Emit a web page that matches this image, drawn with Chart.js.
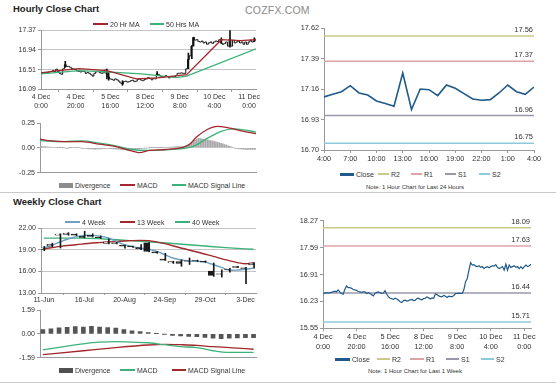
<!DOCTYPE html>
<html>
<head>
<meta charset="utf-8">
<script src="https://cdn.jsdelivr.net/npm/chart.js@4.4.1/dist/chart.umd.min.js"></script>
<style>
  body { margin: 0; background: #fff; width: 560px; height: 385px; overflow: hidden; position: relative;
         font-family: "Liberation Sans", Arial, Helvetica, sans-serif; color: #333; }
  canvas { position: absolute; }
  .abs { position: absolute; white-space: nowrap; }
  .title { font-weight: bold; font-size: 9.5px; line-height: 11px; color: #222; }
  .brand { font-size: 10.5px; line-height: 12px; color: #8a8a8a; letter-spacing: 0.2px; }
  .lg { font-size: 7px; line-height: 9px; color: #333; }
  .note { font-size: 6px; line-height: 8px; color: #333; }
  .rule { position: absolute; height: 1px; background: #c8c8c8; }
</style>
</head>
<body>
<div class="abs title" style="left:13px;top:3px">Hourly Close Chart</div>
<div class="abs brand" style="left:245px;top:4px">COZFX.COM</div>
<div class="abs title" style="left:13px;top:196px">Weekly Close Chart</div>
<div class="abs note" style="left:366px;top:183px">Note: 1 Hour Chart for Last 24 Hours</div>
<div class="abs note" style="left:368px;top:367px">Note: 1 Hour Chart for Last 1 Week</div>
<div class="rule" style="left:0;top:192px;width:556px"></div>
<div class="rule" style="left:0;top:382px;width:556px"></div>
<script>
// ---- hourly data (4 Dec 0:00 .. 11 Dec 4:00, trading hours) ----
const hourTickLabels = [['4 Dec', '0:00'], ['4 Dec', '20:00'], ['5 Dec', '16:00'], ['8 Dec', '12:00'],
  ['9 Dec', '8:00'], ['10 Dec', '4:00'], ['11 Dec', '0:00']];
const hourTickIdx = [0, 20, 40, 60, 80, 100, 120];
const hourlyClose = [
  16.44, 16.44, 16.45, 16.44, 16.45, 16.46, 16.47, 16.49, 16.47, 16.52,
  16.47, 16.43, 16.41, 16.53, 16.62, 16.58, 16.58, 16.56, 16.53, 16.52,
  16.51, 16.48, 16.47, 16.46, 16.47, 16.47, 16.43, 16.45, 16.43, 16.40,
  16.37, 16.43, 16.46, 16.47, 16.45, 16.43, 16.44, 16.50, 16.41, 16.35,
  16.31, 16.30, 16.28, 16.31, 16.29, 16.26, 16.22, 16.20, 16.25, 16.26,
  16.24, 16.25, 16.27, 16.28, 16.25, 16.26, 16.30, 16.31, 16.28, 16.27,
  16.30, 16.31, 16.34, 16.32, 16.29, 16.32, 16.31, 16.42, 16.40, 16.37,
  16.35, 16.35, 16.38, 16.36, 16.33, 16.36, 16.35, 16.35, 16.38, 16.43,
  16.43, 16.44, 16.43, 16.43, 16.53, 16.73, 16.81, 17.02, 17.21, 17.15,
  17.16, 17.12, 17.11, 17.13, 17.09, 17.11, 17.06, 17.09, 17.11, 17.08,
  17.11, 17.13, 17.12, 17.16, 17.09, 17.06, 17.08, 17.11, 17.02, 17.17,
  17.02, 17.15, 17.09, 17.11, 17.13, 17.09, 17.11, 17.06, 17.11, 17.06,
  17.11, 17.15, 17.11, 17.13, 17.17];
const wickIdx = [14, 38, 39, 47, 67, 85, 87, 88, 104, 109, 123];
const wickLow = [16.56, 16.31, 16.28, 16.17, 16.38, 16.53, 16.75, 17.02, 17.08, 17.00, 17.12];
const wickHigh = [16.69, 16.52, 16.45, 16.27, 16.47, 16.87, 17.03, 17.21, 17.20, 17.36, 17.20];
const ma20Idx = [0, 10, 22, 38, 55, 67, 84, 104, 115, 124];
const ma20Val = [16.44, 16.49, 16.53, 16.49, 16.31, 16.33, 16.40, 17.16, 17.14, 17.16];
const ma50Idx = [0, 22, 38, 58, 78, 84, 124];
const ma50Val = [16.42, 16.49, 16.46, 16.42, 16.335, 16.37, 16.96];
const hourPriceTicks = [16.09, 16.51, 16.94, 17.37];

const hMacdIdx = [0, 5, 14, 24, 34, 43, 53, 57, 63, 72, 82, 86, 90, 96, 102, 107, 111, 117, 124];
const hMacdVal = [0.089, 0.073, 0.064, 0.064, 0.038, 0.016, -0.032, -0.048, -0.025, -0.016, 0.006, 0.038,
  0.111, 0.185, 0.217, 0.207, 0.191, 0.166, 0.143];
const hSigIdx = [0, 14, 24, 34, 43, 53, 63, 72, 82, 88, 96, 104, 111, 117, 124];
const hSigVal = [0.073, 0.064, 0.07, 0.048, 0.022, -0.016, -0.025, -0.019, -0.006, 0.016, 0.096, 0.166,
  0.191, 0.182, 0.159];
const hDiv = [
  0.016, 0.015, 0.013, 0.012, 0.011, 0.009, 0.008, 0.006, 0.005, 0.004,
  0.003, 0.002, 0.002, 0.001, 0.000, -0.001, -0.001, 0.001, 0.003, 0.004,
  0.004, 0.003, 0.002, 0.000, -0.002, -0.004, -0.006, -0.008, -0.009, -0.010,
  -0.011, -0.012, -0.012, -0.011, -0.010, -0.009, -0.008, -0.007, -0.006, -0.006,
  -0.007, -0.008, -0.010, -0.011, -0.013, -0.014, -0.016, -0.018, -0.020, -0.021,
  -0.022, -0.022, -0.021, -0.020, -0.018, -0.016, -0.014, -0.011, -0.008, -0.005,
  -0.003, -0.001, 0.000, 0.001, 0.002, 0.003, 0.003, 0.002, 0.002, 0.003,
  0.003, 0.004, 0.004, 0.005, 0.006, 0.007, 0.008, 0.010, 0.011, 0.012,
  0.012, 0.013, 0.014, 0.016, 0.019, 0.024, 0.032, 0.045, 0.060, 0.075,
  0.088, 0.095, 0.094, 0.092, 0.089, 0.086, 0.082, 0.078, 0.074, 0.070,
  0.065, 0.060, 0.055, 0.050, 0.045, 0.040, 0.034, 0.028, 0.022, 0.016,
  0.010, 0.004, -0.002, -0.006, -0.009, -0.011, -0.013, -0.014, -0.015, -0.015,
  -0.016, -0.016, -0.016, -0.016, -0.016];
const hMacdTicks = [-0.25, 0, 0.25];

// ---- last 24 hours ----
const dayTickLabels = ['4:00', '7:00', '10:00', '13:00', '16:00', '19:00', '22:00', '1:00', '4:00'];
const dayTickIdx = [0, 3, 6, 9, 12, 15, 18, 21, 24];
const dayClose = [17.10, 17.12, 17.14, 17.185, 17.13, 17.115, 17.07, 17.05, 17.03, 17.28, 17.005, 17.16,
  17.155, 17.11, 17.19, 17.165, 17.125, 17.085, 17.075, 17.08, 17.13, 17.19, 17.14, 17.12, 17.175];
const dayLevels = [17.56, 17.37, 16.96, 16.75];
const dayTicks = [16.70, 16.93, 17.16, 17.39, 17.62];

// ---- last week pivots ----
const weekLevels = [18.09, 17.63, 16.44, 15.71];
const weekPriceTicks = [15.55, 16.23, 16.91, 17.59, 18.27];
const levelNames = ['R2', 'R1', 'S1', 'S2'];

// ---- weekly data (11-Jun .. 10-Dec) ----
const weekTickLabels = ['11-Jun', '16-Jul', '20-Aug', '24-Sep', '29-Oct', '3-Dec'];
const weekTickIdx = [0, 5, 10, 15, 20, 25];
const wOpen = [19.05, 19.50, 21.00, 21.10, 21.15, 20.85, 21.00, 20.75, 19.85, 19.95, 19.60, 19.50, 19.30, 19.95,
  18.70, 17.70, 17.15, 17.35, 17.45, 17.50, 17.40, 16.05, 15.65, 16.25, 16.65, 16.50, 16.90];
const wHigh = [19.45, 19.90, 21.20, 21.35, 21.20, 21.55, 21.20, 20.90, 20.50, 20.00, 19.65, 19.50, 19.70, 20.00,
  18.75, 18.50, 17.40, 17.60, 17.85, 17.55, 17.45, 17.15, 16.20, 16.40, 16.70, 16.55, 17.20];
const wLow = [18.85, 19.40, 19.23, 21.00, 20.95, 20.65, 20.75, 20.55, 19.80, 19.80, 19.20, 19.30, 19.00, 18.70,
  18.50, 17.50, 17.10, 16.70, 16.95, 17.35, 17.25, 15.30, 15.20, 15.90, 16.50, 14.30, 16.45];
const wClose = [19.25, 19.75, 21.15, 21.30, 21.00, 20.70, 20.85, 20.65, 20.10, 19.85, 19.50, 19.40, 19.10, 18.75,
  18.55, 17.55, 17.35, 17.10, 17.40, 17.45, 17.30, 15.45, 15.60, 16.20, 16.55, 16.40, 17.15];
const ma4 = [19.23, 19.60, 20.06, 20.48, 20.80, 20.98, 20.98, 20.85, 20.62, 20.15, 19.69, 19.42, 19.23, 19.05,
  18.77, 18.30, 17.85, 17.57, 17.43, 17.38, 17.30, 16.92, 16.55, 16.18, 16.18, 16.28, 16.46];
const ma13Idx = [0, 2, 4, 6, 8, 10, 12, 13, 15, 17, 19, 21, 23, 25, 26];
const ma13Val = [19.10, 19.46, 19.69, 19.92, 20.06, 20.20, 20.29, 20.25, 19.83, 19.23, 18.68, 18.08, 17.48, 17.05, 17.20];
const ma40Idx = [0, 4, 8, 12, 16, 20, 23, 26];
const ma40Val = [20.60, 20.60, 20.45, 20.15, 19.85, 19.50, 19.25, 19.05];
const weekTicks = [13, 16, 19, 22];

const wDiv = [0.29, 0.33, 0.40, 0.44, 0.48, 0.46, 0.50, 0.46, 0.42, 0.38, 0.29, 0.21, 0.15, 0.08, 0.02,
  -0.02, -0.10, -0.13, -0.17, -0.19, -0.23, -0.29, -0.32, -0.29, -0.27, -0.25, -0.25];
const wMacdIdx = [0, 3, 5, 7, 9, 11, 13, 15, 17, 19, 21, 23, 26];
const wMacdVal = [-1.06, -0.81, -0.66, -0.55, -0.51, -0.55, -0.59, -0.72, -0.85, -0.91, -1.12, -1.23, -1.23];
const wSigIdx = [0, 5, 9, 13, 15, 17, 19, 21, 23, 26];
const wSigVal = [-1.38, -1.12, -0.91, -0.74, -0.70, -0.72, -0.76, -0.85, -0.91, -1.02];
const wMacdTicks = [-1.59, 0, 1.59];

// ---- styling ----
const RED = '#a2282c';
const GREEN = '#3cb27a';
const BLUE4 = '#6fa0c2';
const CLOSE_BLUE = '#1f5a8a';
const LEVEL_COLORS = ['#c9c98c', '#dca4a4', '#9a98ad', '#8ccbdc'];
const FONT = { family: '"Liberation Sans", Arial, Helvetica, sans-serif', size: 7, lineHeight: 1.2 };
Chart.defaults.font = FONT;
Chart.defaults.color = '#333';

const pts = (idx, vals) => idx.map((x, k) => ({ x, y: vals[k] }));
const seq = (vals) => vals.map((y, x) => ({ x, y }));

function makeCanvas(left, top, w, h) {
  const c = document.createElement('canvas');
  c.width = w; c.height = h;
  c.style.left = left + 'px'; c.style.top = top + 'px';
  c.style.width = w + 'px'; c.style.height = h + 'px';
  document.body.appendChild(c);
  return c.getContext('2d');
}

function legend(y, items) {
  items.forEach(([x0, x1, kind, color, text, tx]) => {
    const h = kind === 'block' ? 5 : kind === 'thick' ? 3 : 2;
    const sw = document.createElement('div');
    sw.className = 'abs';
    sw.style.cssText += `left:${x0}px;top:${y - h / 2}px;width:${x1 - x0}px;height:${h}px;background:${color}`;
    document.body.appendChild(sw);
    const t = document.createElement('div');
    t.className = 'abs lg';
    t.style.left = tx + 'px'; t.style.top = (y - 4.5) + 'px';
    t.textContent = text;
    document.body.appendChild(t);
  });
}

const levelLabels = {
  id: 'levelLabels',
  afterDatasetsDraw(chart) {
    const { ctx, chartArea, scales } = chart;
    chart.data.datasets.forEach((ds) => {
      if (ds.levelLabel === undefined) return;
      const y = scales.y.getPixelForValue(ds.levelLabel);
      ctx.save();
      ctx.font = '7.5px "Liberation Sans", Arial, sans-serif';
      ctx.fillStyle = '#333';
      ctx.textAlign = 'right';
      ctx.textBaseline = 'alphabetic';
      ctx.fillText(ds.levelLabel.toFixed(2), chartArea.right - 1, y - 4);
      ctx.restore();
    });
  },
};

function baseOptions(pad) {
  return {
    responsive: false,
    animation: false,
    devicePixelRatio: 1,
    layout: { padding: pad },
    plugins: { legend: { display: false }, tooltip: { enabled: false } },
    elements: { point: { radius: 0 }, line: { borderWidth: 1 } },
  };
}

function yAxis(min, max, ticks, width, grid, fontSize) {
  return {
    type: 'linear', min, max,
    afterBuildTicks: (s) => { s.ticks = ticks.map((v) => ({ value: v })); },
    afterFit: (s) => { s.width = width; },
    ticks: { callback: (v) => Number(v).toFixed(2), padding: 2, font: { ...FONT, size: fontSize || 7 } },
    grid: { drawOnChartArea: grid, color: '#c4c4c4', tickLength: 3, tickColor: '#999' },
    border: { display: true, color: '#999' },
  };
}

function xAxis(min, max, tickIdx, labels, height, opts = {}) {
  return {
    type: 'linear', min, max, offset: false,
    afterBuildTicks: (s) => { s.ticks = tickIdx.map((v) => ({ value: v })); },
    afterFit: (s) => { s.height = height; },
    ticks: {
      display: !!labels, autoSkip: false, maxRotation: 0, padding: opts.padding ?? 1,
      callback: (v, i) => (labels ? labels[i] : ''),
      font: { ...FONT, size: opts.size || 7, lineHeight: opts.lineHeight || 1.2 },
    },
    grid: { drawOnChartArea: false, drawTicks: !!labels, tickLength: opts.tick ?? 3, tickColor: '#999' },
    border: { display: true, color: '#999' },
  };
}

function levelSets(levels, xmin, xmax) {
  return levels.map((v, k) => ({
    type: 'line', label: levelNames[k], levelLabel: v,
    data: [{ x: xmin, y: v }, { x: xmax, y: v }],
    borderColor: LEVEL_COLORS[k], borderWidth: 1.5,
  }));
}

const lastHour = hourlyClose.length - 1;

// Hourly close chart
new Chart(makeCanvas(0, 20, 262, 92), {
  type: 'bar',
  data: {
    datasets: [
      { type: 'line', label: '20 Hr MA', data: pts(ma20Idx, ma20Val), borderColor: RED, borderWidth: 1.3 },
      { type: 'line', label: '50 Hrs MA', data: pts(ma50Idx, ma50Val), borderColor: GREEN, borderWidth: 1.3 },
      { type: 'line', label: 'Close', data: seq(hourlyClose), borderColor: '#111', borderWidth: 1, stepped: 'middle' },
      { type: 'bar', label: 'Range', data: wickIdx.map((x, k) => ({ x, y: [wickLow[k], wickHigh[k]] })),
        backgroundColor: '#111', barThickness: 1 },
    ],
  },
  options: {
    ...baseOptions({ top: 10, right: 6, left: 0, bottom: 0 }),
    scales: {
      x: xAxis(0, lastHour, hourTickIdx, hourTickLabels, 23),
      y: yAxis(16.09, 17.37, hourPriceTicks, 41, true),
    },
  },
});
legend(24, [[93, 108, 'line', RED, '20 Hr MA', 110], [150, 164, 'line', GREEN, '50 Hrs MA', 166]]);

// Hourly MACD
new Chart(makeCanvas(0, 115, 262, 64), {
  type: 'bar',
  data: {
    datasets: [
      { type: 'line', label: 'MACD', data: pts(hMacdIdx, hMacdVal), borderColor: RED, borderWidth: 1.3,
        cubicInterpolationMode: 'monotone' },
      { type: 'line', label: 'MACD Signal Line', data: pts(hSigIdx, hSigVal), borderColor: GREEN, borderWidth: 1.3,
        cubicInterpolationMode: 'monotone' },
      { type: 'bar', label: 'Divergence', data: seq(hDiv), backgroundColor: '#a8a8a8', barThickness: 1 },
    ],
  },
  options: {
    ...baseOptions({ top: 8, right: 6, left: 0, bottom: 3 }),
    scales: {
      x: xAxis(0, lastHour, hourTickIdx, null, 0),
      y: yAxis(-0.25, 0.25, hMacdTicks, 40, false),
    },
  },
});
legend(185, [[59, 73, 'block', '#8c8c8c', 'Divergence', 75], [120, 135, 'line', RED, 'MACD', 137],
  [172, 186, 'line', GREEN, 'MACD Signal Line', 188]]);

// Last 24 hours with pivots
new Chart(makeCanvas(280, 18, 280, 150), {
  type: 'line',
  data: {
    datasets: [
      { label: 'Close', data: seq(dayClose), borderColor: CLOSE_BLUE, borderWidth: 1.6 },
      ...levelSets(dayLevels, 0, dayClose.length - 1),
    ],
  },
  options: {
    ...baseOptions({ top: 10, right: 26, left: 0, bottom: 0 }),
    scales: {
      x: xAxis(0, dayClose.length - 1, dayTickIdx, dayTickLabels, 18, { padding: 2, size: 7.3 }),
      y: yAxis(16.70, 17.62, dayTicks, 44, false, 7.3),
    },
  },
  plugins: [levelLabels],
});
legend(174, [[340, 354, 'thick', CLOSE_BLUE, 'Close', 356], [378, 389, 'line', LEVEL_COLORS[0], 'R2', 391],
  [411, 422, 'line', LEVEL_COLORS[1], 'R1', 424], [445, 456, 'line', LEVEL_COLORS[2], 'S1', 458],
  [479, 490, 'line', LEVEL_COLORS[3], 'S2', 492]]);

// Weekly close chart
new Chart(makeCanvas(0, 218, 262, 92), {
  type: 'bar',
  data: {
    datasets: [
      { type: 'bar', label: 'Body', data: wOpen.map((o, x) => ({ x, y: [o, wClose[x]] })),
        backgroundColor: wOpen.map((o, x) => (wClose[x] >= o ? '#ffffff' : '#1a1a1a')),
        borderColor: '#1a1a1a', borderWidth: 1, borderSkipped: false, barThickness: 5 },
      { type: 'bar', label: 'Range', data: wLow.map((l, x) => ({ x, y: [l, wHigh[x]] })),
        backgroundColor: '#1a1a1a', barThickness: 1 },
      { type: 'line', label: '4 Week', data: seq(ma4), borderColor: BLUE4, borderWidth: 1.4, tension: 0.3 },
      { type: 'line', label: '13 Week', data: pts(ma13Idx, ma13Val), borderColor: RED, borderWidth: 1.4,
        cubicInterpolationMode: 'monotone' },
      { type: 'line', label: '40 Week', data: pts(ma40Idx, ma40Val), borderColor: GREEN, borderWidth: 1.4,
        cubicInterpolationMode: 'monotone' },
    ],
  },
  options: {
    ...baseOptions({ top: 10, right: 6, left: 0, bottom: 0 }),
    scales: {
      x: xAxis(-0.35, 26.3, weekTickIdx, weekTickLabels, 17, { tick: 2 }),
      y: yAxis(13, 22, weekTicks, 41, true),
    },
  },
});
legend(222, [[65, 80, 'line', BLUE4, '4 Week', 82], [120, 135, 'line', RED, '13 Week', 137],
  [175, 190, 'line', GREEN, '40 Week', 192]]);

// Weekly MACD
new Chart(makeCanvas(0, 302, 262, 62), {
  type: 'bar',
  data: {
    datasets: [
      { type: 'line', label: 'MACD', data: pts(wMacdIdx, wMacdVal), borderColor: GREEN, borderWidth: 1.3,
        cubicInterpolationMode: 'monotone' },
      { type: 'line', label: 'MACD Signal Line', data: pts(wSigIdx, wSigVal), borderColor: RED, borderWidth: 1.3,
        cubicInterpolationMode: 'monotone' },
      { type: 'bar', label: 'Divergence', data: seq(wDiv), backgroundColor: '#555555', barThickness: 4 },
    ],
  },
  options: {
    ...baseOptions({ top: 8, right: 6, left: 0, bottom: 3 }),
    scales: {
      x: xAxis(-0.35, 26.3, weekTickIdx, null, 0),
      y: yAxis(-1.59, 1.59, wMacdTicks, 40, false),
    },
  },
});
legend(370, [[59, 73, 'block', '#505050', 'Divergence', 75], [120, 135, 'line', GREEN, 'MACD', 137],
  [172, 186, 'line', RED, 'MACD Signal Line', 188]]);

// Last week hourly with pivots
new Chart(makeCanvas(280, 210, 280, 150), {
  type: 'line',
  data: {
    datasets: [
      { label: 'Close', data: seq(hourlyClose), borderColor: CLOSE_BLUE, borderWidth: 1.2 },
      ...levelSets(weekLevels, 0, lastHour),
    ],
  },
  options: {
    ...baseOptions({ top: 10.7, right: 29, left: 0, bottom: 0 }),
    scales: {
      x: xAxis(0, lastHour, hourTickIdx, hourTickLabels, 31.7, { size: 7.3, lineHeight: 1.3 }),
      y: yAxis(15.55, 18.27, weekPriceTicks, 43, false, 7.3),
    },
  },
  plugins: [levelLabels],
});
legend(359, [[335, 350, 'thick', CLOSE_BLUE, 'Close', 352], [377, 390, 'line', LEVEL_COLORS[0], 'R2', 392],
  [410, 424, 'line', LEVEL_COLORS[1], 'R1', 426], [446, 459, 'line', LEVEL_COLORS[2], 'S1', 461],
  [481, 494, 'line', LEVEL_COLORS[3], 'S2', 496]]);
</script>
</body>
</html>
